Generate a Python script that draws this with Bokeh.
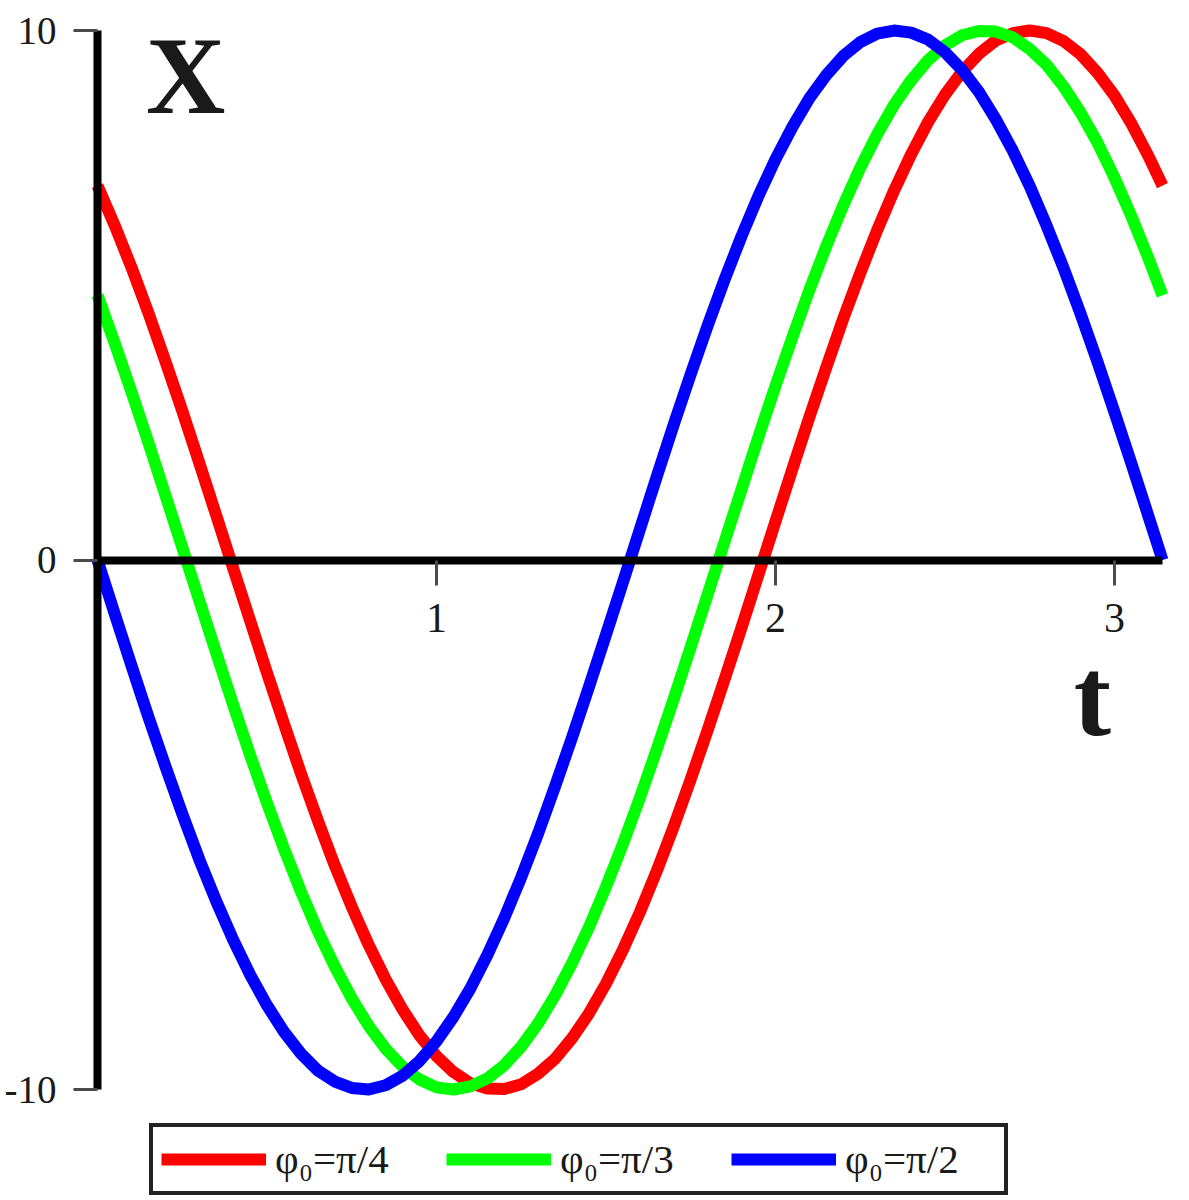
from bokeh.plotting import figure
from bokeh.models import Range1d, FixedTicker, Legend, LegendItem, Label
from bokeh.embed import file_html
from bokeh.resources import INLINE

# time samples (t)
t = [0.00, 0.05, 0.10, 0.15, 0.20, 0.25, 0.30, 0.35, 0.40, 0.45,
     0.50, 0.55, 0.60, 0.65, 0.70, 0.75, 0.80, 0.85, 0.90, 0.95,
     1.00, 1.05, 1.10, 1.15, 1.20, 1.25, 1.30, 1.35, 1.40, 1.45,
     1.50, 1.55, 1.60, 1.65, 1.70, 1.75, 1.80, 1.85, 1.90, 1.95,
     2.00, 2.05, 2.10, 2.15, 2.20, 2.25, 2.30, 2.35, 2.40, 2.45,
     2.50, 2.55, 2.60, 2.65, 2.70, 2.75, 2.80, 2.85, 2.90, 2.95,
     3.00, 3.05, 3.10, 3.1416]

# phi0 = pi/4 (red)
x_red = [7.07, 6.33, 5.53, 4.67, 3.76, 2.82, 1.84, 0.85, -0.15, -1.14,
         -2.13, -3.09, -4.03, -4.92, -5.77, -6.55, -7.27, -7.92, -8.49, -8.98,
         -9.37, -9.67, -9.88, -9.98, -9.99, -9.90, -9.70, -9.42, -9.03, -8.56,
         -8.00, -7.36, -6.65, -5.87, -5.03, -4.14, -3.21, -2.25, -1.27, -0.27,
         0.73, 1.72, 2.70, 3.64, 4.56, 5.42, 6.23, 6.98, 7.66, 8.27,
         8.79, 9.22, 9.56, 9.81, 9.95, 10.00, 9.95, 9.80, 9.55, 9.20,
         8.77, 8.24, 7.63, 7.07]

# phi0 = pi/3 (green)
x_green = [5.00, 4.11, 3.18, 2.22, 1.23, 0.24, -0.76, -1.75, -2.73, -3.68,
           -4.59, -5.45, -6.26, -7.01, -7.68, -8.28, -8.80, -9.23, -9.57, -9.81,
           -9.96, -10.00, -9.94, -9.79, -9.54, -9.19, -8.75, -8.22, -7.61, -6.93,
           -6.17, -5.36, -4.49, -3.57, -2.62, -1.64, -0.65, 0.35, 1.34, 2.33,
           3.29, 4.21, 5.10, 5.93, 6.70, 7.41, 8.04, 8.60, 9.06, 9.44,
           9.72, 9.91, 9.99, 9.98, 9.87, 9.65, 9.35, 8.94, 8.45, 7.88,
           7.22, 6.49, 5.70, 5.00]

# phi0 = pi/2 (blue)
x_blue = [0.00, -1.00, -1.99, -2.96, -3.89, -4.79, -5.65, -6.44, -7.17, -7.83,
          -8.41, -8.91, -9.32, -9.64, -9.85, -9.97, -10.00, -9.92, -9.74, -9.46,
          -9.09, -8.63, -8.09, -7.46, -6.76, -5.99, -5.16, -4.27, -3.35, -2.39,
          -1.41, -0.42, 0.58, 1.58, 2.56, 3.51, 4.43, 5.30, 6.12, 6.88,
          7.57, 8.18, 8.72, 9.16, 9.52, 9.78, 9.94, 10.00, 9.96, 9.83,
          9.59, 9.26, 8.84, 8.32, 7.73, 7.06, 6.31, 5.51, 4.65, 3.74,
          2.79, 1.82, 0.83, 0.00]

series_labels = ["φ₀=π/4", "φ₀=π/3", "φ₀=π/2"]
series_colors = ["#ff0000", "#00ff00", "#0000ff"]
x_ticks = [1, 2, 3]
y_ticks = [-10, 0, 10]
y_tick_labels = {-10: "-10", 0: "0", 10: "10"}
t_end = 3.1416

p = figure(frame_width=1170, frame_height=1200,
           x_range=Range1d(-0.2861, 3.1652), y_range=Range1d(-12.096, 10.567),
           output_backend="svg", toolbar_location=None,
           min_border_left=0, min_border_right=19,
           min_border_top=0, min_border_bottom=0)
p.title.visible = False
p.grid.visible = False
p.outline_line_color = None
p.background_fill_color = "white"
p.border_fill_color = "white"

renderers = []
for ys, col in zip([x_red, x_green, x_blue], series_colors):
    r = p.line(t, ys, line_color=col, line_width=12, line_join="round")
    renderers.append(r)

serif = "Liberation Serif"
for ax in (p.xaxis[0], p.yaxis[0]):
    ax.fixed_location = 0
    ax.axis_line_color = "black"
    ax.axis_line_width = 8
    ax.major_tick_line_color = "#4a4a4a"
    ax.major_tick_line_width = 3
    ax.major_tick_in = 0
    ax.minor_tick_line_color = None
    ax.major_label_text_font = serif
    ax.major_label_text_color = "#1a1a1a"

p.xaxis[0].ticker = FixedTicker(ticks=x_ticks)
p.xaxis[0].bounds = (0, t_end)
p.xaxis[0].major_tick_out = 25
p.xaxis[0].major_label_standoff = 19
p.xaxis[0].major_label_text_font_size = "42px"

p.yaxis[0].ticker = FixedTicker(ticks=y_ticks)
p.yaxis[0].major_label_overrides = y_tick_labels
p.yaxis[0].bounds = (-10, 10)
p.yaxis[0].major_tick_out = 24
p.yaxis[0].major_label_standoff = 17
p.yaxis[0].major_label_text_font_size = "39px"

p.add_layout(Label(x=0.26, y=9.15, text="X", text_font=serif,
                   text_font_style="bold", text_font_size="110px",
                   text_align="center", text_baseline="alphabetic",
                   text_color="#1a1a1a"))
p.add_layout(Label(x=2.935, y=-2.58, text="t", text_font=serif,
                   text_font_style="bold", text_font_size="112px",
                   text_align="center", text_baseline="alphabetic",
                   text_color="#1a1a1a"))

legend = Legend(
    items=[LegendItem(label=lab, renderers=[r]) for lab, r in zip(series_labels, renderers)],
    orientation="horizontal", location=(149, 5),
    glyph_width=105, glyph_height=40, label_standoff=9, label_width=151,
    spacing=20, padding=8, margin=0,
    label_text_font=serif, label_text_font_size="41px", label_text_color="#1a1a1a",
    border_line_color="#222222", border_line_width=4, border_line_alpha=1.0,
    background_fill_color="white", background_fill_alpha=1.0,
)
p.add_layout(legend, "center")

open("out.html", "w").write(file_html(p, INLINE))
